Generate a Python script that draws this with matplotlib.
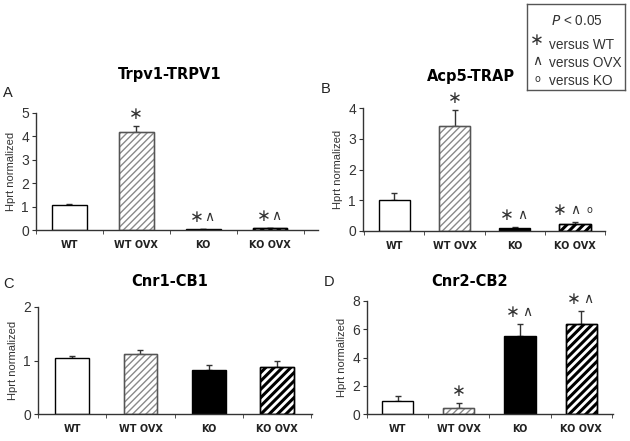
import matplotlib
matplotlib.use("Agg")
import matplotlib.pyplot as plt
import numpy as np

categories = ["WT", "WT OVX", "KO", "KO OVX"]

trpv1_vals = [1.05, 4.2, 0.03, 0.07]
trpv1_err = [0.04, 0.25, 0.01, 0.02]
trpv1_sig = [[], ["*"], ["*", "^"], ["*", "^"]]

acp5_vals = [1.0, 3.4, 0.1, 0.22]
acp5_err = [0.25, 0.55, 0.03, 0.07]
acp5_sig = [[], ["*"], ["*", "^"], ["*", "^", "o"]]

cnr1_vals = [1.05, 1.12, 0.83, 0.88]
cnr1_err = [0.04, 0.08, 0.08, 0.12]
cnr1_sig = [[], [], [], []]

cnr2_vals = [0.95, 0.4, 5.5, 6.35]
cnr2_err = [0.3, 0.35, 0.9, 0.95]
cnr2_sig = [[], ["*"], ["*", "^"], ["*", "^"]]

W, H = 630, 441
fig = plt.figure(figsize=(6.3, 4.41), dpi=100)

SYM = {"*": ("\u2217", 12, 0), "^": ("\u2227", 10, 0), "o": ("o", 7, 0)}

def rect(l, r, b, t):
    return [l / W, 1 - b / H, (r - l) / W, (b - t) / H]

styles = [
    dict(facecolor="white", edgecolor="black", hatch=None, hlw=1.0),
    dict(facecolor="white", edgecolor="#8a8a8a", hatch="/////", hlw=1.0),
    dict(facecolor="black", edgecolor="black", hatch=None, hlw=1.0),
    dict(facecolor="white", edgecolor="black", hatch="////", hlw=2.2),
]

def put_symbols(ax, x, y, syms, gap_px, rise_px):
    n = len(syms)
    for k, s in enumerate(syms):
        txt, fs, dy = SYM[s]
        off = (k - (n - 1) / 2) * gap_px * 72 / 100
        ax.annotate(txt, (x, y), xytext=(off, (rise_px + dy) * 72 / 100),
                    textcoords="offset points", ha="center", va="center",
                    fontsize=fs, color="#333333", family=["DejaVu Sans"])

def panel(box, vals, errs, sigs, ymax, yticks, xlim, width, title, letter,
          title_xy, letter_xy, gap_px):
    ax = fig.add_axes(rect(*box))
    x = np.arange(len(categories))
    for i in range(len(categories)):
        st = styles[i]
        with plt.rc_context({"hatch.linewidth": st["hlw"], "hatch.color": st["edgecolor"]}):
            bars = ax.bar(x[i], vals[i], width=width, facecolor=st["facecolor"],
                          edgecolor=st["edgecolor"], hatch=st["hatch"], linewidth=1.0, zorder=2)
        for b in bars:
            if hasattr(b, "set_hatch_linewidth"):
                b.set_hatch_linewidth(st["hlw"])
        if i in (1, 3):
            ax.bar(x[i], vals[i], width=width, facecolor="none",
                   edgecolor="#555555" if i == 1 else "black", linewidth=1.0, zorder=3)
        ax.errorbar(x[i], vals[i], yerr=[[0], [errs[i]]], fmt="none",
                    ecolor="#333333", elinewidth=1.0, capsize=2.5, capthick=1.0, zorder=1)
        if sigs[i]:
            put_symbols(ax, x[i], vals[i] + errs[i], sigs[i], gap_px, 12)
    ax.set_xlim(*xlim)
    ax.set_ylim(0, ymax)
    ax.set_yticks(yticks)
    ax.set_yticklabels([str(v) for v in yticks], fontsize=10, color="#333333", family="Liberation Sans")
    ax.set_xticks(x)
    ax.set_xticklabels(categories, fontsize=7, fontweight="bold", color="#222222", family="DejaVu Sans")
    ax.tick_params(axis="x", length=0, pad=7)
    ax.set_xticks(np.arange(-0.5, 3.6, 1.0), minor=True)
    ax.tick_params(axis="x", which="minor", length=3, color="#333333")
    ax.tick_params(axis="y", length=3, color="#333333", pad=2)
    ax.spines["top"].set_visible(False)
    ax.spines["right"].set_visible(False)
    for s in ("left", "bottom"):
        ax.spines[s].set_color("#333333")
        ax.spines[s].set_linewidth(1.0)
    ax.set_ylabel("Hprt normalized", fontsize=8, color="#333333", family="Liberation Sans", labelpad=4)
    fig.text(title_xy[0] / W, 1 - title_xy[1] / H, title, fontsize=10.5, fontweight="bold",
             ha="center", va="center", family="DejaVu Sans")
    fig.text(letter_xy[0] / W, 1 - letter_xy[1] / H, letter, fontsize=10.5,
             ha="left", va="center", family="Liberation Sans", color="#222222")
    return ax

panel((36, 318, 230, 113), trpv1_vals, trpv1_err, trpv1_sig, 5, [0, 1, 2, 3, 4, 5],
      (-0.485, 3.716), 0.52, "Trpv1-TRPV1", "A", (170, 75), (3, 93), 12)
panel((363, 605, 231, 108), acp5_vals, acp5_err, acp5_sig, 4, [0, 1, 2, 3, 4],
      (-0.52, 3.5), 0.52, "Acp5-TRAP", "B", (471, 77), (321, 89), 15)
panel((38, 312, 414, 307), cnr1_vals, cnr1_err, cnr1_sig, 2, [0, 1, 2],
      (-0.5, 3.51), 0.49, "Cnr1-CB1", "C", (170, 282), (3, 284), 12)
panel((367, 613, 414, 301), cnr2_vals, cnr2_err, cnr2_sig, 8, [0, 2, 4, 6, 8],
      (-0.49, 3.52), 0.51, "Cnr2-CB2", "D", (470, 281), (324, 282), 14)

# legend box
lb = fig.add_axes(rect(527, 625, 90, 4))
lb.set_xticks([]); lb.set_yticks([])
for s in lb.spines.values():
    s.set_color("#555555"); s.set_linewidth(1.0)
lb.set_xlim(527, 625); lb.set_ylim(90, 4)
fs_leg = 9.8
lb.text(577, 21, "$P$ < 0.05", fontsize=fs_leg, ha="center", va="center", family="Liberation Sans", color="#333333")
lb.text(537, 40, SYM["*"][0], fontsize=12, ha="center", va="center", color="#333333")
lb.text(549, 45, "versus WT", fontsize=fs_leg, ha="left", va="center", family="Liberation Sans", color="#333333")
lb.text(537, 61, SYM["^"][0], fontsize=10, ha="center", va="center", color="#333333")
lb.text(549, 63, "versus OVX", fontsize=fs_leg, ha="left", va="center", family="Liberation Sans", color="#333333")
lb.text(537, 79, "o", fontsize=7, ha="center", va="center", color="#333333")
lb.text(549, 81, "versus KO", fontsize=fs_leg, ha="left", va="center", family="Liberation Sans", color="#333333")

fig.savefig("out.png", dpi=100)
